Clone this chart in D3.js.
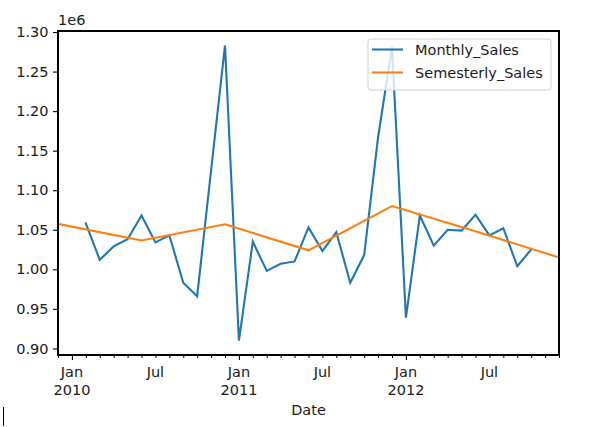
<!DOCTYPE html>
<html>
<head>
<meta charset="utf-8">
<script src="https://cdn.jsdelivr.net/npm/d3@7"></script>
<style>
  html, body { margin: 0; padding: 0; background: #fff; }
  svg { display: block; }
  text { font-family: "DejaVu Sans", sans-serif; fill: #1a1a1a; }
</style>
</head>
<body>
<svg id="chart" width="601" height="427"></svg>
<script>
// Monthly sales (units of 1e6), Feb 2010 .. Oct 2012
const monthlyDates = [
  "2010-02","2010-03","2010-04","2010-05","2010-06","2010-07","2010-08","2010-09","2010-10","2010-11","2010-12",
  "2011-01","2011-02","2011-03","2011-04","2011-05","2011-06","2011-07","2011-08","2011-09","2011-10","2011-11","2011-12",
  "2012-01","2012-02","2012-03","2012-04","2012-05","2012-06","2012-07","2012-08","2012-09","2012-10"
];
const monthlySales = [
  1.058, 1.012, 1.029, 1.038, 1.068, 1.034, 1.043, 0.983, 0.966, 1.125, 1.283,
  0.910, 1.035, 0.998, 1.007, 1.010, 1.053, 1.023, 1.047, 0.983, 1.018, 1.167, 1.281,
  0.939, 1.068, 1.030, 1.050, 1.049, 1.069, 1.043, 1.052, 1.004, 1.025
];
// Semesterly sales (units of 1e6)
const semesterDates = ["2009-12","2010-06","2010-12","2011-06","2011-12","2012-06","2012-12"];
const semesterSales = [1.0575, 1.0365, 1.057, 1.024, 1.080, 1.048, 1.015];

const yTicks = [0.90, 0.95, 1.00, 1.05, 1.10, 1.15, 1.20, 1.25, 1.30];
const seriesNames = ["Monthly_Sales", "Semesterly_Sales"];
const colors = ["#1f77b4", "#ff7f0e"];

// month index relative to Jan 2010
const mIdx = s => { const [y, m] = s.split("-").map(Number); return (y - 2010) * 12 + (m - 1); };

const L = 58, R = 559, T = 31, B = 355;
const FS = 14.5;
const svg = d3.select("#chart");

const x = d3.scaleLinear().domain([mIdx("2009-12"), mIdx("2012-12")]).range([L, R]);
const y = d3.scaleLinear().domain([0.8917, 1.3013]).range([B, T]);

// lines
const line = d3.line().x(d => x(d[0])).y(d => y(d[1]));
const monthlyData = monthlyDates.map((d, i) => [mIdx(d), monthlySales[i]]);
const semesterData = semesterDates.map((d, i) => [mIdx(d), semesterSales[i]]);

const plot = svg.append("g");
plot.append("path").datum(monthlyData).attr("d", line)
  .attr("fill", "none").attr("stroke", colors[0]).attr("stroke-width", 2.1)
  .attr("stroke-linejoin", "miter").attr("stroke-linecap", "square");
plot.append("path").datum(semesterData).attr("d", line)
  .attr("fill", "none").attr("stroke", colors[1]).attr("stroke-width", 2.1)
  .attr("stroke-linecap", "square");

// y axis
const yAxis = d3.axisLeft(y).tickValues(yTicks).tickFormat(d3.format(".2f"))
  .tickSize(5).tickPadding(4.5);
const gy = svg.append("g").attr("transform", `translate(${L},0)`).call(yAxis);
gy.select(".domain").remove();
gy.selectAll("line").attr("stroke", "#000").attr("stroke-width", 1.1);
gy.selectAll("text").attr("font-size", FS).attr("font-family", "DejaVu Sans").attr("fill", "#1a1a1a");

// x axis: minor monthly ticks, major Jan ticks
const allMonths = d3.range(mIdx("2009-12"), mIdx("2012-12") + 1);
const majors = allMonths.filter(m => ((m % 12) + 12) % 12 === 0);
const minors = allMonths.filter(m => ((m % 12) + 12) % 12 !== 0);
const gxMinor = svg.append("g").attr("transform", `translate(0,${B})`)
  .call(d3.axisBottom(x).tickValues(minors).tickSize(3).tickFormat(""));
gxMinor.select(".domain").remove();
gxMinor.selectAll("line").attr("stroke", "#000").attr("stroke-width", 1.0);
const gxMajor = svg.append("g").attr("transform", `translate(0,${B})`)
  .call(d3.axisBottom(x).tickValues(majors).tickSize(5).tickFormat(""));
gxMajor.select(".domain").remove();
gxMajor.selectAll("line").attr("stroke", "#000").attr("stroke-width", 1.1);

// x tick labels
const xLabels = [];
allMonths.forEach(m => {
  const mm = ((m % 12) + 12) % 12;
  const yr = 2010 + Math.floor(m / 12);
  if (mm === 0) xLabels.push({ m, l1: "Jan", l2: String(yr) });
  else if (mm === 6) xLabels.push({ m, l1: "Jul", l2: null });
});
const xl = svg.append("g");
xLabels.forEach(d => {
  const t = xl.append("text").attr("x", x(d.m)).attr("y", 377)
    .attr("text-anchor", "middle").attr("font-size", FS).text(d.l1);
  if (d.l2) xl.append("text").attr("x", x(d.m)).attr("y", 394.5)
    .attr("text-anchor", "middle").attr("font-size", FS).text(d.l2);
});

// spines
svg.append("rect").attr("x", L).attr("y", T).attr("width", R - L).attr("height", B - T)
  .attr("fill", "none").attr("stroke", "#000").attr("stroke-width", 1.1)
  .attr("shape-rendering", "crispEdges");

// offset text and axis label
svg.append("text").attr("x", L).attr("y", 25).attr("font-size", FS).text("1e6");
svg.append("text").attr("x", (L + R) / 2).attr("y", 415).attr("text-anchor", "middle")
  .attr("font-size", FS).text("Date");

// legend
const lg = svg.append("g");
lg.append("rect").attr("x", 368).attr("y", 39).attr("width", 183).attr("height", 51)
  .attr("rx", 3).attr("fill", "#fff").attr("fill-opacity", 0.8)
  .attr("stroke", "#d0d0d0").attr("stroke-width", 1);
seriesNames.forEach((name, i) => {
  const yy = 49.5 + i * 23;
  lg.append("line").attr("x1", 372).attr("x2", 403).attr("y1", yy).attr("y2", yy)
    .attr("stroke", colors[i]).attr("stroke-width", 2.1);
  lg.append("text").attr("x", 415).attr("y", yy + 5).attr("font-size", FS).text(name);
});

// cursor artifact at bottom-left
svg.append("line").attr("x1", 3.5).attr("x2", 3.5).attr("y1", 407).attr("y2", 426)
  .attr("stroke", "#000").attr("stroke-width", 1);
</script>
</body>
</html>
